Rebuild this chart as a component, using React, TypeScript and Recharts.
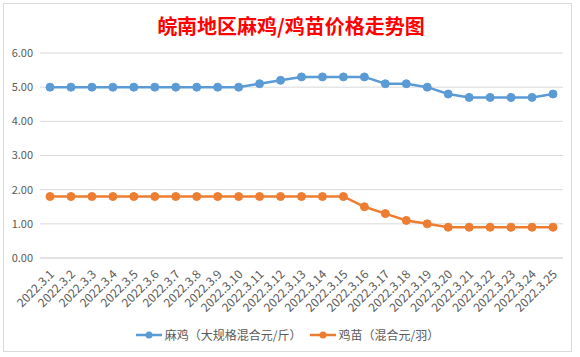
import { LineChart, Line, XAxis, YAxis, CartesianGrid, Legend } from 'recharts';

const dates = [
  '2022.3.1', '2022.3.2', '2022.3.3', '2022.3.4', '2022.3.5', '2022.3.6', '2022.3.7',
  '2022.3.8', '2022.3.9', '2022.3.10', '2022.3.11', '2022.3.12', '2022.3.13', '2022.3.14',
  '2022.3.15', '2022.3.16', '2022.3.17', '2022.3.18', '2022.3.19', '2022.3.20', '2022.3.21',
  '2022.3.22', '2022.3.23', '2022.3.24', '2022.3.25',
];

// 麻鸡（大规格混合元/斤）
const majiPrices = [
  5.0, 5.0, 5.0, 5.0, 5.0, 5.0, 5.0, 5.0, 5.0, 5.0, 5.1, 5.2, 5.3, 5.3, 5.3, 5.3,
  5.1, 5.1, 5.0, 4.8, 4.7, 4.7, 4.7, 4.7, 4.8,
];

// 鸡苗（混合元/羽）
const jimiaoPrices = [
  1.8, 1.8, 1.8, 1.8, 1.8, 1.8, 1.8, 1.8, 1.8, 1.8, 1.8, 1.8, 1.8, 1.8, 1.8, 1.5,
  1.3, 1.1, 1.0, 0.9, 0.9, 0.9, 0.9, 0.9, 0.9,
];

const yTicks = [0, 1, 2, 3, 4, 5, 6];

const seriesNames = ['麻鸡（大规格混合元/斤）', '鸡苗（混合元/羽）'];
const colors = ['#5B9BD5', '#ED7D31'];

const FONT = '"Noto Sans CJK SC", "Microsoft YaHei", sans-serif';

const data = dates.map((d, i) => ({
  date: d,
  maji: majiPrices[i],
  jimiao: jimiaoPrices[i],
}));

function DateTick({ x, y, payload }: any) {
  const ax = x + 5;
  const ay = y + 9;
  return (
    <text
      x={ax}
      y={ay}
      transform={`rotate(-45, ${ax}, ${ay})`}
      textAnchor="end"
      fontSize={12}
      fill="#595959"
      fontFamily={FONT}
    >
      {payload.value}
    </text>
  );
}

function LegendBox() {
  return (
    <div
      style={{
        display: 'flex',
        justifyContent: 'center',
        alignItems: 'center',
        fontFamily: FONT,
        fontSize: 12,
        color: '#595959',
        marginLeft: 20,
      }}
    >
      {seriesNames.map((name, i) => (
        <div key={name} style={{ display: 'flex', alignItems: 'center', marginRight: 8 }}>
          <svg width={26} height={10} style={{ marginRight: 3 }}>
            <line x1={0} y1={5} x2={26} y2={5} stroke={colors[i]} strokeWidth={2.5} />
            <circle cx={13} cy={5} r={3.5} fill={colors[i]} />
          </svg>
          <span>{name}</span>
        </div>
      ))}
    </div>
  );
}

export default function App() {
  return (
    <div
      style={{
        position: 'absolute',
        left: 0,
        top: 0,
        width: 580,
        height: 357,
        background: '#fff',
      }}
    >
      <div
        style={{
          position: 'absolute',
          left: 3,
          top: 3,
          width: 567,
          height: 347,
          border: '1px solid #d9d9d9',
        }}
      />
      <div
        style={{
          position: 'absolute',
          left: 0,
          top: 11,
          width: 582,
          textAlign: 'center',
          color: '#FF0000',
          fontFamily: FONT,
          fontSize: 20,
          fontWeight: 'bold',
        }}
      >
        皖南地区麻鸡/鸡苗价格走势图
      </div>
      <div style={{ position: 'absolute', left: 0, top: 0 }}>
        <LineChart
          width={580}
          height={357}
          data={data}
          margin={{ top: 53, right: 17, bottom: 14, left: 0 }}
        >
          <CartesianGrid vertical={false} stroke="#D9D9D9" />
          <XAxis
            dataKey="date"
            interval={0}
            tick={<DateTick />}
            tickLine={false}
            axisLine={{ stroke: '#D9D9D9' }}
            padding={{ left: 10, right: 10 }}
            height={68}
          />
          <YAxis
            domain={[0, 6]}
            ticks={yTicks}
            tickFormatter={(v: number) => v.toFixed(2)}
            tick={{ fontSize: 11, fill: '#595959', fontFamily: FONT }}
            tickLine={false}
            axisLine={false}
            tickSize={0}
            tickMargin={7}
            width={40}
          />
          <Legend verticalAlign="bottom" content={<LegendBox />} />
          <Line
            type="linear"
            dataKey="maji"
            name={seriesNames[0]}
            stroke={colors[0]}
            strokeWidth={2.5}
            dot={{ r: 4, fill: colors[0], stroke: colors[0], strokeWidth: 1 }}
            isAnimationActive={false}
          />
          <Line
            type="linear"
            dataKey="jimiao"
            name={seriesNames[1]}
            stroke={colors[1]}
            strokeWidth={2.5}
            dot={{ r: 4, fill: colors[1], stroke: colors[1], strokeWidth: 1 }}
            isAnimationActive={false}
          />
        </LineChart>
      </div>
    </div>
  );
}
